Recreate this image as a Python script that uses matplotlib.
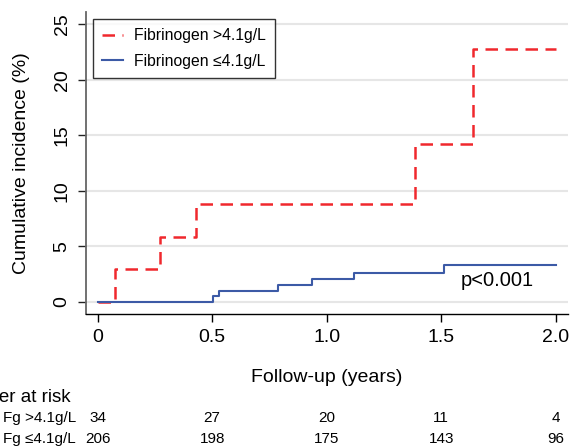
"""Cumulative incidence by fibrinogen group, with number-at-risk table."""

import matplotlib

matplotlib.use("Agg")
import numpy as np
from matplotlib import pyplot as plt

plt.rcParams["font.family"] = ["Liberation Sans", "DejaVu Sans"]

# step functions (time in years, cumulative incidence in %)
high_times = [0.0, 0.076, 0.272, 0.428, 1.384, 1.637, 2.0]
high_incidence = [0.0, 2.94, 5.88, 8.82, 14.2, 22.8, 22.8]
low_times = [0.0, 0.505, 0.531, 0.786, 0.937, 1.12, 1.513, 2.0]
low_incidence = [0.0, 0.51, 1.02, 1.53, 2.07, 2.64, 3.33, 3.33]

risk_times = [0.0, 0.5, 1.0, 1.5, 2.0]
risk_high = [34, 27, 20, 11, 4]
risk_low = [206, 198, 175, 143, 96]
risk_labels = ["Fg >4.1g/L", "Fg \u22644.1g/L"]

RED = "#f0282d"
BLUE = "#3c5aa6"

W, H = 571, 448
fig = plt.figure(figsize=(W / 100, H / 100), dpi=100)
ax = fig.add_axes([86 / W, 1 - 314 / H, (568 - 86) / W, (314 - 12) / H])

ax.set_xlim(-0.051, 2.054)
ax.set_ylim(-1.08, 26.1)
ax.set_yticks(np.arange(0, 26, 5))
ax.set_xticks(risk_times)
ax.set_xticklabels(["0", "0.5", "1.0", "1.5", "2.0"])
ax.grid(axis="y", color="#e6e6e6", linewidth=1.5)
ax.set_axisbelow(True)

for side in ("top", "right"):
    ax.spines[side].set_visible(False)
ax.spines["left"].set_color("#666666")
ax.spines["left"].set_linewidth(1.3)
ax.spines["bottom"].set_color("black")
ax.spines["bottom"].set_linewidth(1.0)

ax.tick_params(axis="both", labelsize=14, length=6, width=1.0, pad=5)
ax.tick_params(axis="y", colors="#222222", labelcolor="black")
for lab in ax.get_yticklabels():
    lab.set_rotation(90)
    lab.set_va("center")

ax.step(high_times, high_incidence, where="post", color=RED,
        linewidth=1.8, dashes=(5, 3), label="Fibrinogen >4.1g/L")
ax.step(low_times, low_incidence, where="post", color=BLUE,
        linewidth=1.5, label="Fibrinogen \u22644.1g/L")

ax.text(1.745, 1.9, "p<0.001", fontsize=14.5, ha="center", va="center")

ax.set_ylabel("Cumulative incidence (%)", fontsize=14, labelpad=17)
ax.set_xlabel("Follow-up (years)", fontsize=14, labelpad=16)

leg = ax.legend(loc="upper left", bbox_to_anchor=(0.0145, 0.977),
                borderaxespad=0, fontsize=11.3, frameon=True, fancybox=False,
                handlelength=1.3, handletextpad=0.7, labelspacing=0.65,
                borderpad=0.6)
leg.get_frame().set_edgecolor("black")
leg.get_frame().set_linewidth(1.0)

# number-at-risk table, columns aligned to the x ticks
tab = fig.add_axes([ax.get_position().x0, 0, ax.get_position().width, 0.2])
tab.set_xlim(ax.get_xlim())
tab.axis("off")
tab.set_ylim(448, 448 - 0.2 * H)
tab.text(-0.12, 397, "Number at risk", fontsize=13.5, ha="right", va="center")
for row_y, label, counts in ((418, risk_labels[0], risk_high),
                             (439, risk_labels[1], risk_low)):
    tab.text(-0.095, row_y, label, fontsize=11, ha="right", va="center")
    for t, n in zip(risk_times, counts):
        tab.text(t, row_y, str(n), fontsize=11, ha="center", va="center")

fig.savefig("out.png", dpi=100)
